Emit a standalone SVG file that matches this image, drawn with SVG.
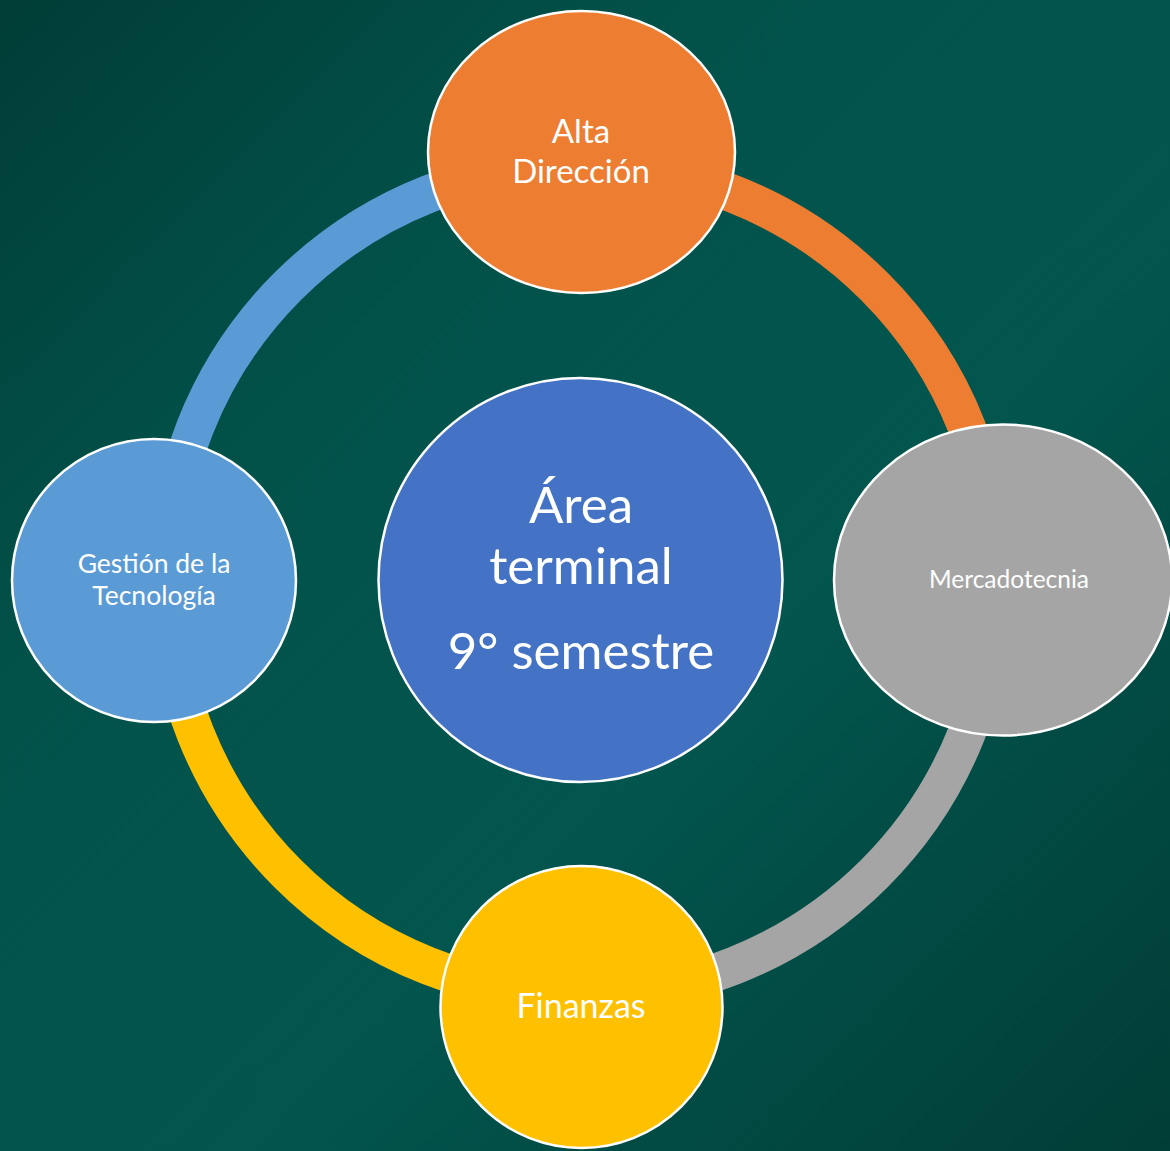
<svg xmlns="http://www.w3.org/2000/svg" width="1170" height="1151" viewBox="0 0 1170 1151">
<defs>
<linearGradient id="bg" x1="0" y1="0" x2="1" y2="1">
<stop offset="0" stop-color="#003d37"/>
<stop offset="0.3" stop-color="#02524a"/>
<stop offset="0.6" stop-color="#02564e"/>
<stop offset="1" stop-color="#013d37"/>
</linearGradient>
<style>
.ring{fill:none;stroke-width:38}
.node{stroke:#ffffff;stroke-width:2.5}
.t{fill:#ffffff;font-family:Lato,"Open Sans",sans-serif;text-anchor:middle}
</style>
</defs>
<rect width="1170" height="1151" fill="url(#bg)"/>
<g id="connectors">
<path class="ring" stroke="#5B9BD5" d="M166 580 A415 415 0 0 1 581 165"/>
<path class="ring" stroke="#ED7D31" d="M581 165 A415 415 0 0 1 996 580"/>
<path class="ring" stroke="#A5A5A5" d="M996 580 A415 415 0 0 1 581 995"/>
<path class="ring" stroke="#FFC000" d="M581 995 A415 415 0 0 1 166 580"/>
</g>
<g id="center">
<circle class="node" cx="580.5" cy="580" r="202" fill="#4472C4"/>
<text class="t" x="581" y="523" font-size="51">Área</text>
<text class="t" x="581" y="584" font-size="51">terminal</text>
<text class="t" x="581" y="669" font-size="51">9° semestre</text>
</g>
<g id="alta">
<ellipse class="node" cx="581.5" cy="152" rx="153.5" ry="141" fill="#ED7D31"/>
<text class="t" x="581" y="143" font-size="33">Alta</text>
<text class="t" x="581" y="183" font-size="33">Dirección</text>
</g>
<g id="mercadotecnia">
<ellipse class="node" cx="1003" cy="580" rx="169" ry="155.5" fill="#A5A5A5"/>
<text class="t" x="1009" y="588" font-size="24.5">Mercadotecnia</text>
</g>
<g id="gestion">
<ellipse class="node" cx="154" cy="580.5" rx="142" ry="141.5" fill="#5B9BD5"/>
<text class="t" x="154" y="573" font-size="26.5">Gestión de la</text>
<text class="t" x="154" y="605" font-size="26.5">Tecnología</text>
</g>
<g id="finanzas">
<circle class="node" cx="581.5" cy="1007" r="141" fill="#FFC000"/>
<text class="t" x="581" y="1018" font-size="34">Finanzas</text>
</g>
</svg>
